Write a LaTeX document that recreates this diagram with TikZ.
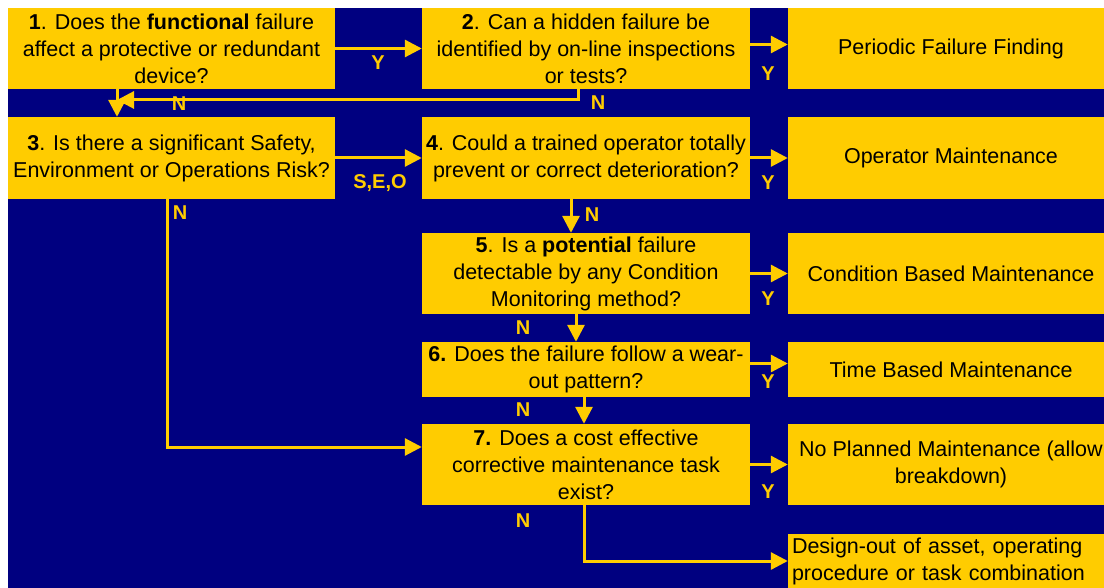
\documentclass[tikz,border=0pt]{standalone}
\usepackage{fontspec}
\setmainfont{Liberation Sans}
\usetikzlibrary{arrows.meta}
\definecolor{navy}{RGB}{0,0,128}
\definecolor{gold}{RGB}{255,204,0}
\tikzset{
  box/.style={fill=gold, inner sep=0pt, align=center, font=\fontsize{21.5}{27}\selectfont},
  flow/.style={gold, line width=3pt, -{Triangle[length=17pt,width=17pt]}},
  yn/.style={gold, inner sep=0pt, font=\fontsize{20}{20}\selectfont\bfseries},
}
\begin{document}
\begin{tikzpicture}[x=1pt,y=-1pt]
\clip (0,0) rectangle (1104,588);
\fill[navy] (8,8) rectangle (1104,588);
% questions
\node[box, minimum width=327, minimum height=81] (q1) at (171.5,48.5) {\textbf{1}. Does the \textbf{functional} failure\\affect a protective or redundant\\device?};
\node[box, minimum width=328, minimum height=81] (q2) at (586,48.5) {\textbf{2}. Can a hidden failure be\\identified by on-line inspections\\or tests?};
\node[box, minimum width=327, minimum height=82] (q3) at (171.5,158) {\textbf{3}. Is there a significant Safety,\\Environment or Operations Risk?};
\node[box, minimum width=328, minimum height=82] (q4) at (586,158) {\textbf{4}. Could a trained operator totally\\prevent or correct deterioration?};
\node[box, minimum width=328, minimum height=81] (q5) at (586,273.5) {\textbf{5}. Is a \textbf{potential} failure\\detectable by any Condition\\Monitoring method?};
\node[box, minimum width=328, minimum height=55] (q6) at (586,369.5) {\textbf{6.} Does the failure follow a wear-\\out pattern?};
\node[box, minimum width=328, minimum height=81] (q7) at (586,464.5) {\textbf{7.} Does a cost effective\\corrective maintenance task\\exist?};
% outcomes
\node[box, minimum width=326, minimum height=81] (pff) at (951,48.5) {Periodic Failure Finding};
\node[box, minimum width=326, minimum height=82] (om) at (951,158) {Operator Maintenance};
\node[box, minimum width=326, minimum height=81] (cbm) at (951,273.5) {Condition Based Maintenance};
\node[box, minimum width=326, minimum height=55] (tbm) at (951,369.5) {Time Based Maintenance};
\node[box, minimum width=326, minimum height=81] (npm) at (951,464.5) {No Planned Maintenance (allow\\breakdown)};
\node[box, text width=318, inner xsep=4pt, align=left, minimum height=54] (dout) at (951,561) {Design-out of asset, operating\\procedure or task combination};
% connectors
\coordinate (j1) at (117,100);
\draw[flow] (q1.east) -- (q2.west);
\draw[flow] ([yshift=4pt]q2.east) -- ([yshift=4pt]pff.west);
\draw[flow] (q1.south -| j1) -- (q3.north -| j1);
\draw[flow] ([xshift=-8pt]q2.south) |- (j1);
\draw[flow] (q3.east) -- (q4.west);
\draw[flow] (q4.east) -- (om.west);
\draw[flow] ([xshift=-15pt]q4.south) -- ([xshift=-15pt]q5.north);
\draw[flow] ([xshift=-4.5pt]q3.south) |- ([yshift=17.5pt]q7.west);
\draw[flow] (q5.east) -- (cbm.west);
\draw[flow] ([xshift=-10pt]q5.south) -- ([xshift=-10pt]q6.north);
\draw[flow] ([yshift=6pt]q6.east) -- ([yshift=6pt]tbm.west);
\draw[flow] ([xshift=-2pt]q6.south) -- ([xshift=-2pt]q7.north);
\draw[flow] (q7.east) -- (npm.west);
\draw[flow] ([xshift=-2pt]q7.south) |- (dout.west);
% Y / N labels
\node[yn] (y1) at (378,63) {Y};
\node[yn] (y2) at (768,74) {Y};
\node[yn] (n2) at (598,103) {N};
\node[yn] (n1) at (179,104) {N};
\node[yn] (seo) at (380,183) {S,E,O};
\node[yn] (y4) at (768,183) {Y};
\node[yn] (n3) at (180,213) {N};
\node[yn] (n4) at (592,215) {N};
\node[yn] (y5) at (768,299) {Y};
\node[yn] (n5) at (523,328) {N};
\node[yn] (y6) at (768,382) {Y};
\node[yn] (n6) at (523,410) {N};
\node[yn] (y7) at (768,492) {Y};
\node[yn] (n7) at (523,521) {N};
\end{tikzpicture}
\end{document}
